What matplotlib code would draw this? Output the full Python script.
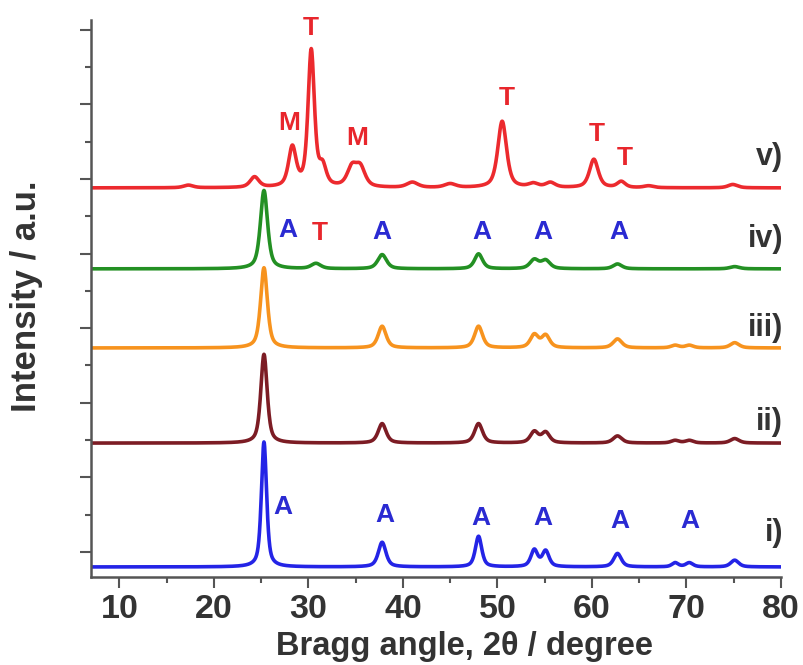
import numpy as np
import matplotlib
matplotlib.use("Agg")
import matplotlib.pyplot as plt

plt.rcParams['font.family'] = ['Liberation Sans', 'DejaVu Sans']

# peak lists: (2theta, height, fwhm), heights in tick units
peaks_i = [(25.3, 3.35, 0.65), (37.8, 0.66, 0.95), (48.0, 0.82, 0.8), (53.9, 0.45, 0.85),
           (55.1, 0.42, 0.85), (62.7, 0.36, 0.95), (68.8, 0.11, 0.8), (70.3, 0.11, 0.9),
           (75.1, 0.18, 1.0)]
peaks_ii = [(25.3, 2.38, 0.8), (37.8, 0.52, 1.0), (48.0, 0.52, 1.0), (53.9, 0.3, 1.0),
            (55.1, 0.28, 1.0), (62.7, 0.19, 1.1), (68.8, 0.07, 1.0), (70.3, 0.07, 1.0),
            (75.1, 0.12, 1.1)]
peaks_iii = [(25.3, 2.15, 0.85), (37.8, 0.58, 1.0), (48.0, 0.58, 1.0), (53.9, 0.35, 1.0),
             (55.1, 0.33, 1.0), (62.7, 0.24, 1.1), (68.8, 0.07, 1.0), (70.3, 0.07, 1.0),
             (75.1, 0.14, 1.1)]
peaks_iv = [(25.3, 2.1, 0.9), (30.8, 0.14, 1.2), (37.8, 0.38, 1.1), (48.0, 0.4, 1.0),
            (53.9, 0.24, 1.1), (55.1, 0.22, 1.1), (62.7, 0.13, 1.1), (75.1, 0.06, 1.2)]
peaks_v = [(17.3, 0.07, 1.2), (24.3, 0.28, 1.1), (28.3, 1.05, 0.95), (30.3, 3.65, 0.8),
           (31.5, 0.5, 0.9), (34.6, 0.5, 1.2), (35.5, 0.5, 1.2), (41.0, 0.14, 1.4),
           (45.0, 0.1, 1.4), (50.5, 1.78, 1.1), (53.8, 0.1, 1.2), (55.6, 0.13, 1.2),
           (60.2, 0.76, 1.1), (63.1, 0.16, 1.0), (66.0, 0.05, 1.2), (74.9, 0.09, 1.2)]

offsets = [-0.40, 2.92, 5.47, 7.59, 9.76]
colors = ['#2424e6', '#7c1c24', '#f7931e', '#239023', '#ec2a2e']
names = ['i)', 'ii)', 'iii)', 'iv)', 'v)']
name_y = [0.51, 3.49, 6.01, 8.39, 10.6]

# phase markers: (2theta, y, letter)
marks_x = [27.3, 38.1, 48.2, 54.8, 63.0, 70.4,
           27.8, 31.2, 37.8, 48.4, 54.8, 62.8,
           30.3, 28.0, 35.2, 51.0, 60.5, 63.5]
marks_y = [1.21, 0.99, 0.91, 0.91, 0.83, 0.83,
           8.63, 8.55, 8.58, 8.58, 8.58, 8.58,
           14.05, 11.5, 11.1, 12.17, 11.2, 10.56]
marks_txt = ['A'] * 6 + ['A', 'T', 'A', 'A', 'A', 'A'] + ['T', 'M', 'M', 'T', 'T', 'T']
blue_txt = '#2a2ad2'
red_txt = '#e8262c'


def pattern(x, peaks):
    y = np.zeros_like(x)
    for c, h, w in peaks:
        g = np.exp(-4 * np.log(2) * ((x - c) / w) ** 2)
        lo = 1 / (1 + 4 * ((x - c) / w) ** 2)
        y += h * (0.4 * g + 0.6 * lo)
    return y


x = np.linspace(7, 80, 2000)
fig = plt.figure(figsize=(8.04, 6.65), dpi=100)
ax = fig.add_axes([0.1132, 0.1323, 0.8582, 0.8376])

for p, off, col in zip([peaks_i, peaks_ii, peaks_iii, peaks_iv, peaks_v], offsets, colors):
    ax.plot(x, pattern(x, p) + off, color=col, lw=2.6)

for n, yy in zip(names, name_y):
    ax.text(80.2, yy, n, ha='right', va='center', fontsize=22, fontweight='bold',
            color='#333333', clip_on=False)

for mx, my, t in zip(marks_x, marks_y, marks_txt):
    c = blue_txt if t == 'A' else red_txt
    ax.text(mx, my, t, ha='center', va='center', fontsize=19, fontweight='bold', color=c)

ax.set_xlim(7, 80)
ax.set_ylim(-0.67, 14.26)
ax.set_xticks(np.arange(10, 81, 10))
ax.set_xticks(np.arange(15, 80, 10), minor=True)
ax.set_yticks(np.arange(0, 15, 2))
ax.set_yticks(np.arange(1, 14, 2), minor=True)
ax.set_yticklabels([])

for s in ['top', 'right']:
    ax.spines[s].set_visible(False)
for s in ['left', 'bottom']:
    ax.spines[s].set_color('#555555')
    ax.spines[s].set_linewidth(1.8)
ax.tick_params(which='major', direction='out', length=8, width=1.5, color='#555555',
               labelsize=24.5, labelcolor='#333333', pad=4)
ax.tick_params(which='minor', direction='out', length=4.5, width=1.5, color='#555555')
for lab in ax.get_xticklabels():
    lab.set_fontweight('bold')

ax.set_xlabel('Bragg angle, 2θ / degree', fontsize=23.5, fontweight='bold', color='#333333')
ax.set_ylabel('Intensity / a.u.', fontsize=25, fontweight='bold', color='#333333')
ax.xaxis.set_label_coords(0.542, -0.097)
ax.yaxis.set_label_coords(-0.069, 0.504)

fig.savefig('out.png', dpi=100)
